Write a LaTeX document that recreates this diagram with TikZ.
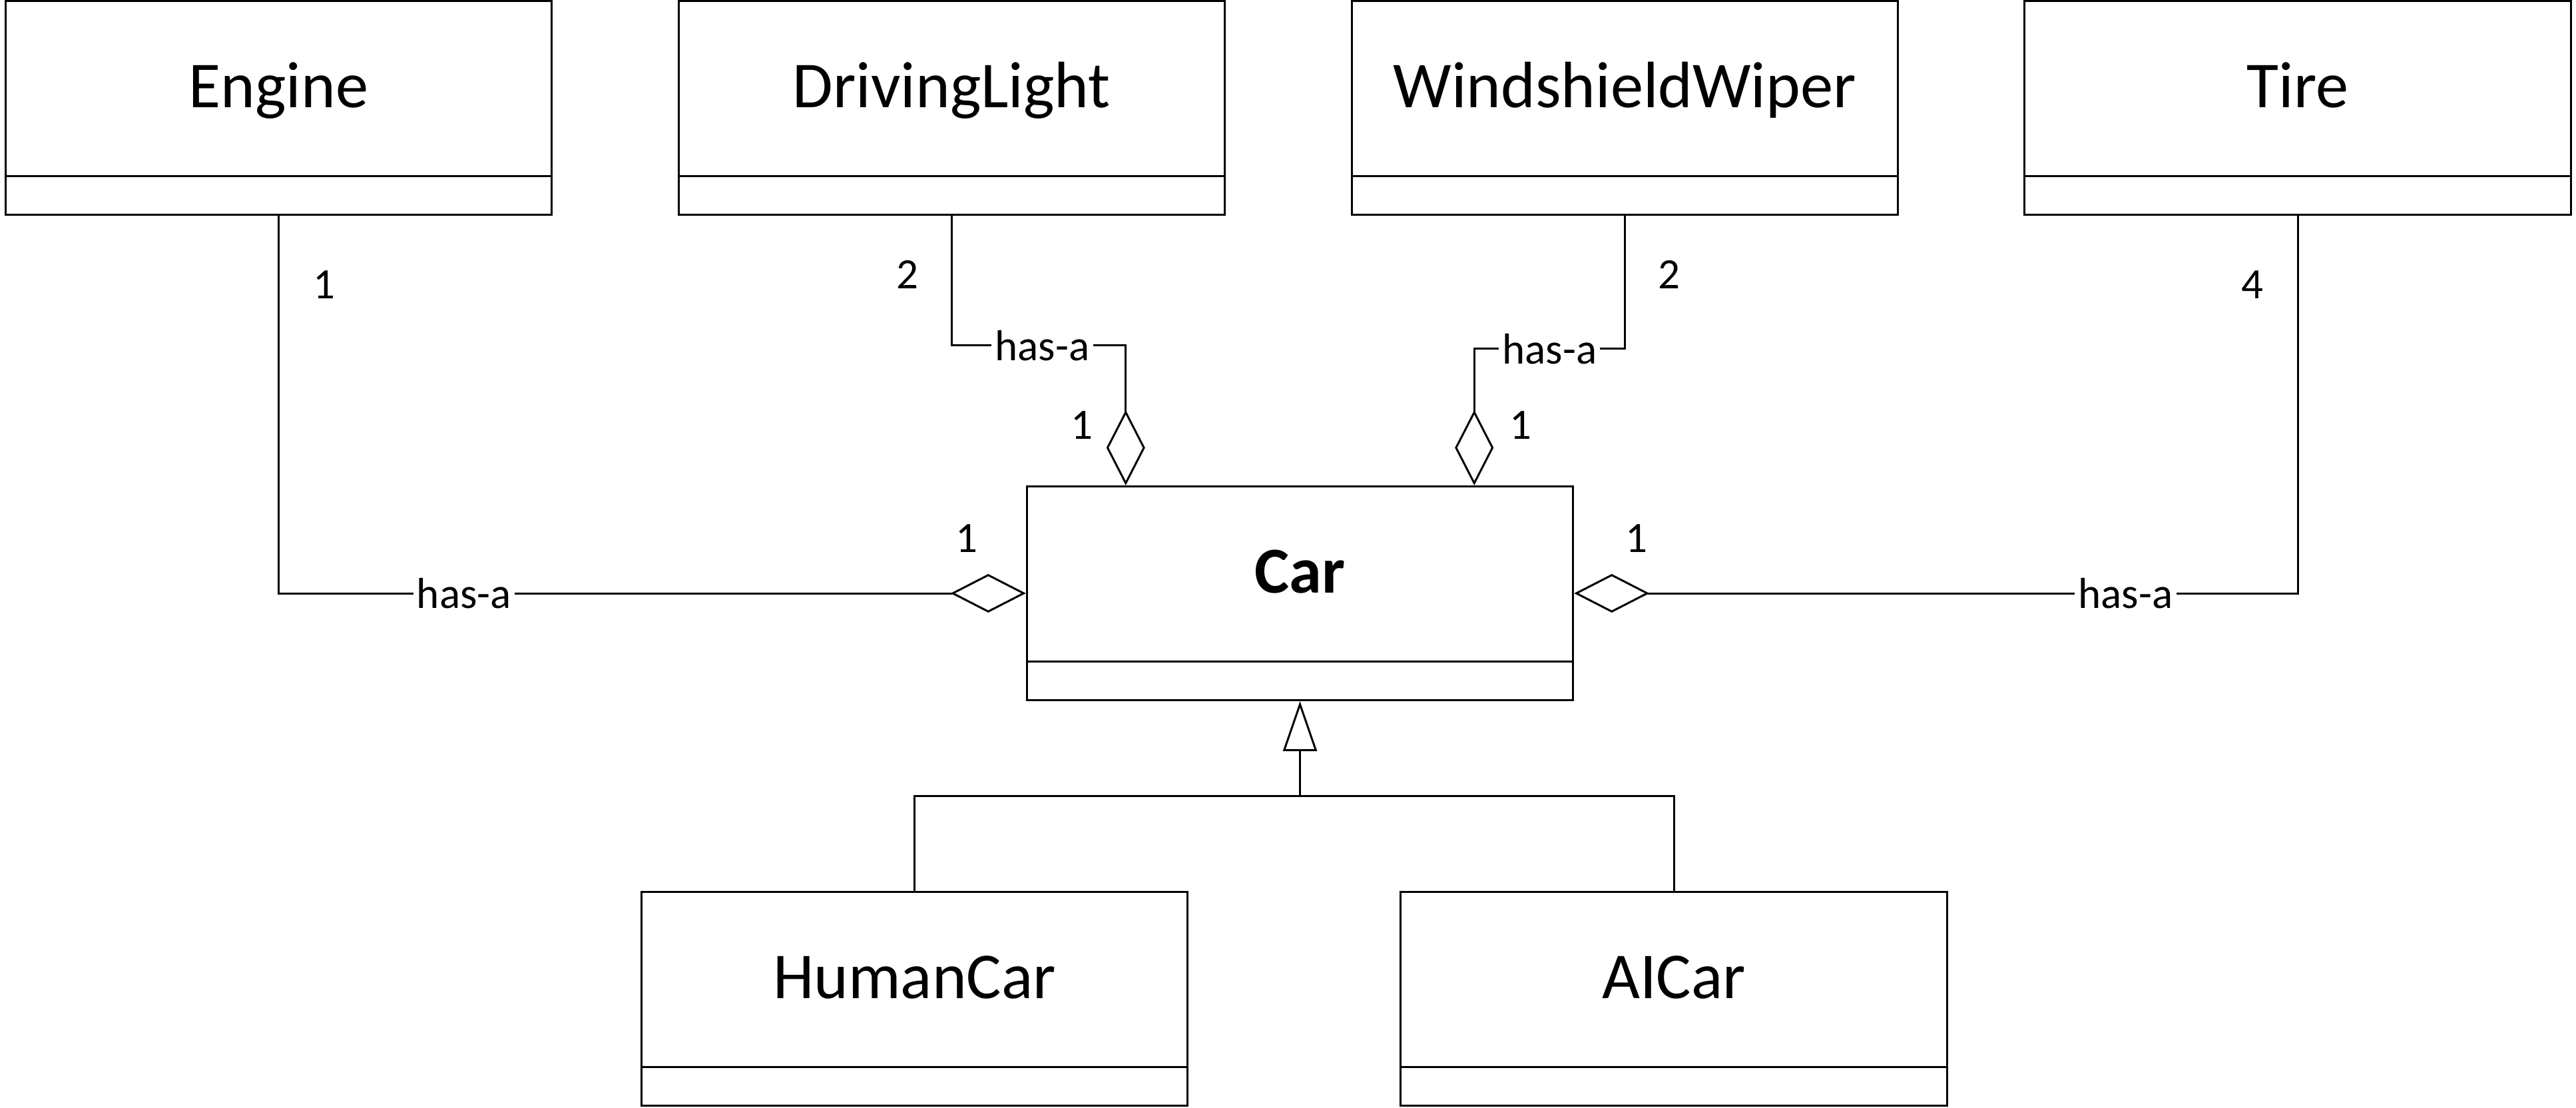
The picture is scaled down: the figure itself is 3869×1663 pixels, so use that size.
\documentclass[tikz,border=0pt]{standalone}
\usepackage{fontspec}
\setmainfont{Carlito}
\usetikzlibrary{shapes.multipart}
\usetikzlibrary{arrows.meta}
\usetikzlibrary{positioning,calc}

\begin{document}
\begin{tikzpicture}[x=0.01cm,y=-0.01cm,semithick,line width=0.85pt,node distance=10.103cm]
		\tikzstyle{class}=[rectangle split,rectangle split parts=2,draw=black,
			text width=8.2cm,align=center,inner xsep=0pt,inner ysep=0pt,
			text height=1.58cm,text depth=1.02cm,
			rectangle split empty part height=0.55cm,rectangle split empty part depth=0pt,
			font=\fontsize{28}{32}\selectfont]
		\tikzstyle{hasa}=[-{Diamond[open,length=1.13cm,width=0.58cm]}]
		\tikzstyle{isa}=[-{Triangle[open,length=0.75cm,width=0.51cm]}]
		\tikzstyle{lbl}=[fill=white,inner xsep=1.5pt,inner ysep=0pt,font=\fontsize{18.5}{22}\selectfont]
		\tikzstyle{mult}=[inner sep=0pt,font=\fontsize{18.5}{22}\selectfont]
		\useasboundingbox (0,0) rectangle (3869,1663);
		% the parts
		\node[class]    (Engine) at (418.5,162)  {Engine};
		\node[class]    (Light)[right of=Engine] {DrivingLight};
		\node[class]    (Wiper)[right of=Light]  {WindshieldWiper};
		\node[class]    (Tire)[right of=Wiper]   {Tire};
		% the car and its kinds
		\node[class]    (Car) at (1952.5,891)    {\textbf{Car}};
		\node[class]    (Human) at (1373.5,1500) {HumanCar};
		\node[class]    (AI) at (2514,1500)      {AICar};
		% aggregations
		\draw[hasa] (Engine.south) |- (Car.west) node[lbl,pos=0.624] {has-a};
		\draw[hasa] (Tire.south) |- (Car.east) node[lbl,pos=0.619] {has-a};
		\draw[hasa] (Light.south) |- ($(Car.north west)+(150,-210)$) node[lbl,pos=0.76] {has-a}
			-- ($(Car.north west)+(150,0)$);
		\draw[hasa] (Wiper.south) |- ($(Car.north east)+(-150,-205)$) node[lbl,pos=0.75] {has-a}
			-- ($(Car.north east)+(-150,0)$);
		% multiplicities
		\node[mult] (mEngine) at (487,428)   {1};
		\node[mult] (mCarW)   at (1452,809)  {1};
		\node[mult] (mLight)  at (1363,412)  {2};
		\node[mult] (mCarL)   at (1625,639)  {1};
		\node[mult] (mWiper)  at (2507,412)  {2};
		\node[mult] (mCarR)   at (2284,639)  {1};
		\node[mult] (mTire)   at (3383,428)  {4};
		\node[mult] (mCarE)   at (2458,809)  {1};
		% inheritance
		\coordinate (join) at ($(Car.south)+(0,142)$);
		\draw (Human.north) |- (join);
		\draw (AI.north) |- (join);
		\draw[isa] (join) -- (Car.south);
	\end{tikzpicture}
\end{document}
